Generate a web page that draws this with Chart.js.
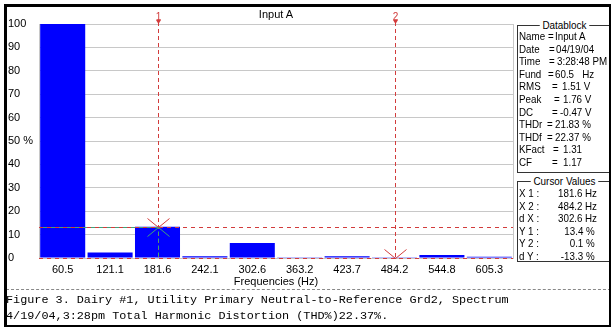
<!DOCTYPE html>
<html>
<head>
<meta charset="utf-8">
<script src="https://cdn.jsdelivr.net/npm/chart.js@4/dist/chart.umd.min.js"></script>
<style>
  html, body { margin: 0; padding: 0; background: #fff; }
  #page { position: relative; width: 613px; height: 329px; overflow: hidden; background: #fff; }
  #frame { position: absolute; left: 4px; top: 4px; width: 607px; height: 323px;
           border-top: 3px solid #000; border-left: 3px solid #000;
           border-right: 2px solid #000; border-bottom: 2px solid #000; box-sizing: border-box; }
  #plot { position: absolute; left: 0; top: 0; width: 515px; height: 290px; }
  .ui { font-family: "Liberation Sans", Arial, sans-serif; font-size: 11px; color: #000; }
  #title { position: absolute; left: 39px; width: 474px; top: 8px; text-align: center; }
  .box { position: absolute; left: 517px; width: 94px; border: 1px solid #333; box-sizing: border-box; }
  .box .hd { position: absolute; top: -7px; left: 0; right: 0; text-align: center; line-height: 12px; }
  .box .hd span { display: inline-block; background: #fff; padding: 0 3px; transform: scaleX(0.9); }
  .row { position: absolute; left: 0; width: 92px; height: 12px; white-space: pre; line-height: 12px; }
  .row span { position: absolute; top: 0; display: inline-block; transform: scaleX(0.89); transform-origin: left center; }
  .row span.r { transform-origin: right center; text-align: right; }
  #sep { position: absolute; left: 6px; right: 2px; top: 289px; border-top: 1px dashed #888; }
  .cap { position: absolute; left: 6px; font-family: "Liberation Mono", "Courier New", monospace;
         font-size: 11.8px; white-space: pre; line-height: 14px; color: #000; }
</style>
</head>
<body>
<div id="page">
  <div id="plot"><canvas id="c" width="515" height="290"></canvas></div>
  <div id="title" class="ui">Input A</div>
  <div id="db" class="box ui" style="top:25px;height:148px;"></div>
  <div id="cv" class="box ui" style="top:181px;height:81px;"></div>
  <div id="sep"></div>
  <div class="cap" style="top:293px;">Figure 3. Dairy #1, Utility Primary Neutral-to-Reference Grd2, Spectrum</div>
  <div class="cap" style="top:309px;">4/19/04,3:28pm Total Harmonic Distortion (THD%)22.37%.</div>
  <div id="frame"></div>
</div>
<script>
// Harmonic bins (Hz) and their magnitude as % of fundamental
const frequencies = ['60.5', '121.1', '181.6', '242.1', '302.6', '363.2', '423.7', '484.2', '544.8', '605.3'];
const magnitudes  = [100, 2.3, 13.4, 0.7, 6.4, 0.1, 0.8, 0.1, 1.3, 0.5];
const yTicks = [0, 10, 20, 30, 40, 50, 60, 70, 80, 90, 100];

// Cursor readouts
const cursorX = ['181.6', '484.2'];
const cursorY = [13.4, 0.1];

// Side panel text
const datablockTitle = 'Datablock';
const datablockKeys   = ['Name', 'Date', 'Time', 'Fund', 'RMS', 'Peak', 'DC', 'THDr', 'THDf', 'KFact', 'CF'];
const datablockValues = ['Input A', '04/19/04', '3:28:48 PM', '60.5   Hz', '1.51 V', '1.76 V', '-0.47 V', '21.83 %', '22.37 %', '1.31', '1.17'];
const cursorTitle = 'Cursor Values';
const cursorKeys   = ['X 1 :', 'X 2 :', 'd X :', 'Y 1 :', 'Y 2 :', 'd Y :'];
const cursorValues = ['181.6', '484.2', '302.6', '13.4', '0.1', '-13.3'];
const cursorUnits  = ['Hz', 'Hz', 'Hz', '%', '%', '%'];

// Column offsets inside the panels (px from the box's inner left edge)
const dbEqualsX = [30, 31, 31, 30, 34, 36, 34, 29, 29, 35, 34];
const dbValueX  = [37, 38, 39, 37, 44, 45, 42, 37, 37, 45, 45];
const ROW_STEP = 12.6;

function mk(parent, cls, text, css) {
  const s = document.createElement(cls === 'row' || cls === 'hd' ? 'div' : 'span');
  if (cls) s.className = cls;
  if (text != null) s.textContent = text;
  Object.assign(s.style, css || {});
  parent.appendChild(s);
  return s;
}
function header(box, title) {
  const hd = mk(box, 'hd');
  mk(hd, '', title);
}

const db = document.getElementById('db');
header(db, datablockTitle);
datablockKeys.forEach((k, i) => {
  const row = mk(db, 'row', null, { top: (4 + i * ROW_STEP) + 'px' });
  mk(row, '', k, { left: '1px' });
  mk(row, '', '=', { left: dbEqualsX[i] + 'px' });
  mk(row, '', datablockValues[i], { left: dbValueX[i] + 'px' });
});

const cv = document.getElementById('cv');
header(cv, cursorTitle);
cursorKeys.forEach((k, i) => {
  const row = mk(cv, 'row', null, { top: (5 + i * ROW_STEP) + 'px' });
  mk(row, '', k, { left: '1px' });
  mk(row, 'r', cursorValues[i], { right: '27px' });
  mk(row, '', cursorUnits[i], { left: cursorUnits[i] === 'Hz' ? '67px' : '68px' });
});

const RED = '#d23c3c';
const GREEN = '#3fa27a';

// Harmonic cursors: dashed crosshairs, numbered flags and X markers
const cursorPlugin = {
  id: 'cursors',
  afterDatasetsDraw(chart) {
    const { ctx, chartArea: a, scales: { x, y } } = chart;
    const px = cursorX.map(v => x.getPixelForValue(frequencies.indexOf(v)));
    const py = cursorY.map(v => y.getPixelForValue(v));
    ctx.save();
    ctx.lineWidth = 1;
    px.forEach((X, i) => {
      const xx = Math.round(X) + 0.5;
      ctx.strokeStyle = RED;
      ctx.setLineDash([4, 3]);
      ctx.beginPath(); ctx.moveTo(xx, a.top - 2); ctx.lineTo(xx, a.bottom); ctx.stroke();
      ctx.setLineDash([]);
      ctx.fillStyle = RED;
      ctx.beginPath(); ctx.moveTo(xx - 2.5, a.top - 4); ctx.lineTo(xx + 2.5, a.top - 4); ctx.lineTo(xx, a.top); ctx.closePath(); ctx.fill();
      ctx.font = '10px "Liberation Sans", Arial, sans-serif';
      ctx.textAlign = 'center'; ctx.textBaseline = 'alphabetic';
      ctx.fillText(String(i + 1), xx, a.top - 4);
    });
    py.forEach(Y => {
      const yy = Math.round(Y) + 0.5;
      ctx.strokeStyle = RED;
      ctx.setLineDash([4, 4]);
      ctx.beginPath(); ctx.moveTo(a.left, yy); ctx.lineTo(a.right, yy); ctx.stroke();
    });
    // green segments tying cursor 1 to the axes
    const x1 = Math.round(px[0]) + 0.5, y1 = Math.round(py[0]) + 0.5;
    ctx.strokeStyle = GREEN;
    ctx.setLineDash([4, 4]); ctx.lineDashOffset = 4;
    ctx.beginPath(); ctx.moveTo(a.left, y1); ctx.lineTo(x1, y1); ctx.stroke();
    ctx.setLineDash([4, 3]); ctx.lineDashOffset = 3;
    ctx.beginPath(); ctx.moveTo(x1, y1); ctx.lineTo(x1, a.bottom); ctx.stroke();
    ctx.setLineDash([]); ctx.lineDashOffset = 0;
    // X markers at the cursor intersections
    ctx.beginPath(); ctx.rect(a.left, a.top, a.right - a.left, a.bottom - a.top + 1); ctx.clip();
    px.forEach((X, i) => {
      const cx = Math.round(X) + 0.5, cy = Math.round(py[i]) + 0.5;
      ctx.strokeStyle = RED;
      ctx.beginPath();
      ctx.moveTo(cx - 11, cy - 9); ctx.lineTo(cx, cy); ctx.lineTo(cx + 11, cy - 9);
      ctx.stroke();
      ctx.strokeStyle = i === 0 ? GREEN : RED;
      ctx.beginPath();
      ctx.moveTo(cx - 11, cy + 9); ctx.lineTo(cx, cy); ctx.lineTo(cx + 11, cy + 9);
      ctx.stroke();
    });
    ctx.restore();
  }
};

new Chart(document.getElementById('c'), {
  type: 'bar',
  data: {
    labels: frequencies,
    datasets: [{
      data: magnitudes,
      backgroundColor: '#0000ff',
      borderWidth: 0,
      barPercentage: 0.95,
      categoryPercentage: 1
    }]
  },
  options: {
    responsive: false,
    animation: false,
    events: [],
    layout: { padding: { left: 8, top: 24, right: 2, bottom: 0 } },
    plugins: { legend: { display: false }, tooltip: { enabled: false }, title: { display: false } },
    scales: {
      x: {
        grid: { display: false, drawTicks: false },
        border: { display: false },
        ticks: { color: '#000', font: { family: '"Liberation Sans", Arial, sans-serif', size: 11 }, padding: 5, maxRotation: 0, autoSkip: false },
        title: { display: true, text: 'Frequencies (Hz)', color: '#000', font: { family: '"Liberation Sans", Arial, sans-serif', size: 11 }, padding: { top: 0, bottom: 1 } },
        afterFit(s) { s.height = 32; }
      },
      y: {
        min: 0, max: 100,
        afterBuildTicks(s) { s.ticks = yTicks.map(v => ({ value: v })); },
        grid: { color: '#c8c8c8', drawTicks: false },
        border: { display: true, color: '#c8c8c8' },
        ticks: {
          color: '#000', crossAlign: 'far', padding: 0,
          font: { family: '"Liberation Sans", Arial, sans-serif', size: 11 },
          callback: v => (v === 50 ? '50 %' : String(v))
        },
        afterFit(s) { s.width = 31; }
      }
    }
  },
  plugins: [cursorPlugin, {
    id: 'plotFrame',
    beforeDatasetsDraw(chart) {
      const { ctx, chartArea: a } = chart;
      ctx.save();
      ctx.strokeStyle = '#c8c8c8';
      ctx.lineWidth = 1;
      ctx.strokeRect(Math.round(a.left) + 0.5, Math.round(a.top) + 0.5, Math.round(a.right - a.left), Math.round(a.bottom - a.top));
      ctx.restore();
    }
  }]
});
</script>
</body>
</html>
